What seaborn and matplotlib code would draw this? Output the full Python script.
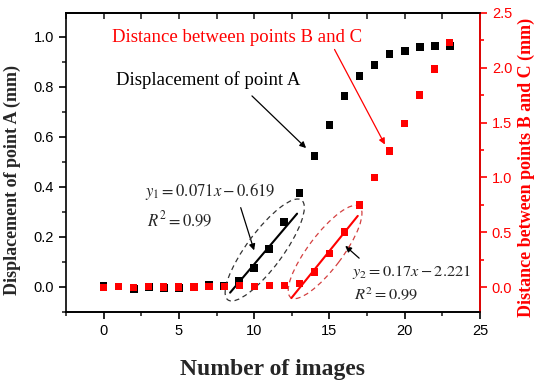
import numpy as np
import pandas as pd
import matplotlib
matplotlib.use("Agg")
import matplotlib.pyplot as plt
import seaborn as sns
from matplotlib.patches import Ellipse
from matplotlib.transforms import ScaledTranslation
from matplotlib.ticker import MultipleLocator

# ---- data ----
images = list(range(24))
disp_A = [0.004, 0.002, -0.008, 0.000, -0.003, -0.003, 0.001, 0.008, 0.004, 0.024,
          0.076, 0.153, 0.260, 0.375, 0.524, 0.648, 0.764, 0.844, 0.888, 0.931,
          0.945, 0.960, 0.965, 0.965]
dist_BC = [-0.006, 0.006, -0.006, 0.003, 0.000, 0.000, 0.000, 0.003, 0.003, 0.012,
           0.003, 0.012, 0.010, 0.034, 0.137, 0.304, 0.502, 0.748, 0.995, 1.241,
           1.494, 1.752, 1.989, 2.233]
fit1 = (0.071, -0.619)   # slope, intercept
fit1_range = (8.4, 12.85)
fit2 = (0.17, -2.221)
fit2_range = (12.47, 16.88)

xticks = [0, 5, 10, 15, 20, 25]
yticks_left = [0.0, 0.2, 0.4, 0.6, 0.8, 1.0]
yticks_right = [0.0, 0.5, 1.0, 1.5, 2.0, 2.5]

df = pd.DataFrame({"n": images, "A": disp_A, "BC": dist_BC})

sns.set_style("ticks")
plt.rcParams["mathtext.fontset"] = "stix"
RED = "#ff0000"
SERIF = "Liberation Serif"
SANS = "Liberation Sans"

fig = plt.figure(figsize=(5.5, 3.83), dpi=100)
ax = fig.add_axes([66/550, 1 - 312/383, (480-66)/550, (312-13)/383])
ax2 = ax.twinx()

sns.scatterplot(data=df, x="n", y="A", marker="s", color="black", s=30,
                edgecolor="none", ax=ax, zorder=3)
sns.scatterplot(data=df, x="n", y="BC", marker="s", color=RED, s=26,
                edgecolor="none", ax=ax2, zorder=3)

# fit lines
xf1 = np.array(fit1_range)
sns.lineplot(x=xf1, y=fit1[0]*xf1 + fit1[1], color="black", lw=1.5, ax=ax)
xf2 = np.array(fit2_range)
sns.lineplot(x=xf2, y=fit2[0]*xf2 + fit2[1], color=RED, lw=1.5, ax=ax2)

ax.set_xlim(-2.5, 25)
ax.set_ylim(-0.1, 1.096)
ax2.set_ylim(-0.228, 2.5)

ax.set_xticks(xticks)
ax.xaxis.set_minor_locator(MultipleLocator(2.5))
ax.set_yticks(yticks_left)
ax.yaxis.set_minor_locator(MultipleLocator(0.1))
ax2.set_yticks(yticks_right)
ax2.yaxis.set_minor_locator(MultipleLocator(0.25))

for a in (ax, ax2):
    for s in a.spines.values():
        s.set_visible(True)
        s.set_linewidth(1.2)
        s.set_color("black")
ax2.spines["right"].set_color(RED)
ax2.spines["left"].set_visible(False)

ax.tick_params(axis="both", which="major", direction="out", length=5, width=1.2,
               labelsize=10.5, colors="black")
ax.tick_params(axis="both", which="minor", direction="out", length=3, width=1.2)
ax2.tick_params(axis="y", which="major", direction="out", length=5, width=1.2,
                labelsize=10.5, colors=RED)
ax2.tick_params(axis="y", which="minor", direction="out", length=3, width=1.2,
                colors=RED)
for lab in ax.get_xticklabels() + ax.get_yticklabels() + ax2.get_yticklabels():
    lab.set_fontfamily(SANS)

# top ticks pointing inward
top = ax.secondary_xaxis("top")
top.set_xticks(xticks)
top.xaxis.set_minor_locator(MultipleLocator(2.5))
top.tick_params(which="both", direction="in", length=4, width=1.2, labeltop=False)
top.spines["top"].set_linewidth(1.2)

ax.set_xlabel("Number of images", fontfamily=SERIF, fontweight="bold",
              fontsize=17, labelpad=15)
ax.set_ylabel("Displacement of point A (mm)", fontfamily=SERIF, fontweight="bold",
              fontsize=13)
ax.yaxis.set_label_coords(-0.109, 0.443)
ax2.set_ylabel("Distance between points B and C (mm)", fontfamily=SERIF,
               fontweight="bold", fontsize=13, color=RED)
ax2.yaxis.set_label_coords(1.092, 0.483)

# annotations
ax.text(0.53, 1.0, "Distance between points B and C", color=RED, fontfamily=SERIF,
        fontsize=13.5, ha="left", va="center")
ax.annotate("", xy=(18.77, 0.56), xytext=(15.25, 0.96),
            arrowprops=dict(arrowstyle="-|>", color=RED, lw=0.9, mutation_scale=9))
ax.text(0.8, 0.828, "Displacement of point A", color="black", fontfamily=SERIF,
        fontsize=13.5, ha="left", va="center")
ax.annotate("", xy=(13.58, 0.548), xytext=(9.72, 0.772),
            arrowprops=dict(arrowstyle="-|>", color="black", lw=0.9, mutation_scale=9))

ax.text(2.73, 0.38, r"$y_1 = 0.071x - 0.619$", fontsize=12, ha="left", va="center")
ax.text(2.86, 0.268, r"$R^2 = 0.99$", fontsize=12, ha="left", va="center")
ax.annotate("", xy=(10.05, 0.136), xytext=(9.05, 0.328),
            arrowprops=dict(arrowstyle="-|>", color="black", lw=0.9, mutation_scale=9))
ax.text(16.51, 0.06, r"$y_2 = 0.17x - 2.221$", fontsize=11.8, ha="left", va="center")
ax.text(16.64, -0.032, r"$R^2 = 0.99$", fontsize=11.8, ha="left", va="center")
ax.annotate("", xy=(15.91, 0.172), xytext=(17.11, 0.108),
            arrowprops=dict(arrowstyle="-|>", color="black", lw=0.9, mutation_scale=9))

# dashed ellipses (defined in inches, centred in data coords)
e1 = Ellipse((0, 0), 1.24, 0.36, angle=53.5,
             transform=fig.dpi_scale_trans + ScaledTranslation(10.7, 0.148, ax.transData),
             fill=False, ls=(0, (4, 3)), lw=0.9, edgecolor="#333333", zorder=4)
e2 = Ellipse((0, 0), 1.14, 0.34, angle=53,
             transform=fig.dpi_scale_trans + ScaledTranslation(14.71, 0.14, ax.transData),
             fill=False, ls=(0, (4, 3)), lw=0.9, edgecolor="#d44040", zorder=4)
ax.add_patch(e1)
ax.add_patch(e2)
ax.set_zorder(1)
ax2.set_zorder(2)
ax2.patch.set_visible(False)

fig.savefig("out.png", dpi=100)
